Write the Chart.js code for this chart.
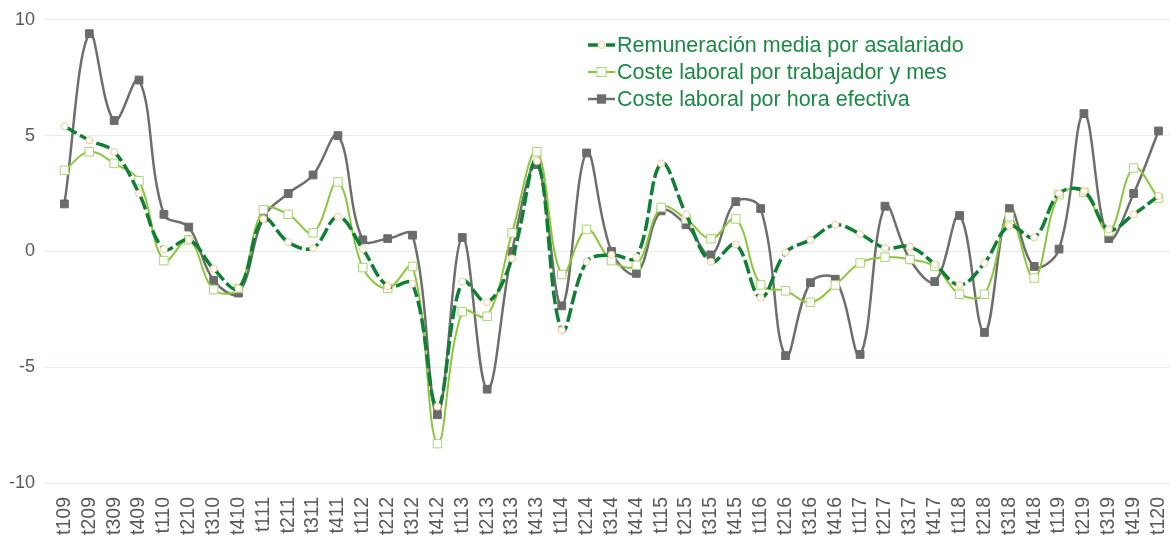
<!DOCTYPE html>
<html>
<head>
<meta charset="utf-8">
<script src="https://cdn.jsdelivr.net/npm/chart.js@4"></script>
<style>
  html, body { margin: 0; padding: 0; background: #ffffff; overflow: hidden; }
  #outer { width: 1170px; height: 539px; overflow: hidden; position: relative; }
  #wrap { width: 1188px; height: 539px; position: absolute; left: 0; top: 0; }
</style>
</head>
<body>
<div id="outer"><div id="wrap"><canvas id="costChart"></canvas></div></div>
<script>
// quarters t109 .. t120
const labels = ['t109','t209','t309','t409','t110','t210','t310','t410','t111','t211','t311','t411',
  't112','t212','t312','t412','t113','t213','t313','t413','t114','t214','t314','t414',
  't115','t215','t315','t415','t116','t216','t316','t416','t117','t217','t317','t417',
  't118','t218','t318','t418','t119','t219','t319','t419','t120'];

const remuneracion = [5.4, 4.8, 4.3, 2.5, 0.1, 0.5, -0.75, -1.6, 1.4, 0.4, 0.15, 1.5,
  0.1, -1.5, -1.4, -6.7, -1.3, -2.2, -0.3, 3.9, -3.4, -0.45, -0.15, -0.25,
  3.8, 1.6, -0.45, 0.3, -2.0, -0.05, 0.5, 1.15, 0.75, 0.15, 0.2, -0.55,
  -1.45, -0.5, 1.1, 0.6, 2.5, 2.6, 0.95, 1.6, 2.4];

const costeTrabajador = [3.5, 4.3, 3.8, 3.05, -0.4, 0.5, -1.65, -1.6, 1.8, 1.6, 0.8, 3.0,
  -0.7, -1.6, -0.65, -8.3, -2.6, -2.8, 0.8, 4.3, -1.0, 0.95, -0.4, -0.6,
  1.9, 1.4, 0.55, 1.4, -1.45, -1.7, -2.2, -1.45, -0.5, -0.25, -0.35, -0.65,
  -1.85, -1.85, 1.5, -1.15, 2.45, 2.55, 0.85, 3.6, 2.3];

const costeHora = [2.05, 9.4, 5.65, 7.4, 1.6, 1.05, -1.25, -1.8, 1.45, 2.5, 3.3, 5.0,
  0.5, 0.55, 0.7, -7.05, 0.6, -5.95, 0.0, 3.75, -2.35, 4.25, 0.0, -0.95,
  1.75, 1.15, -0.15, 2.15, 1.85, -4.5, -1.35, -1.2, -4.45, 1.95, -0.35, -1.3,
  1.55, -3.5, 1.85, -0.65, 0.1, 5.95, 0.55, 2.5, 5.2];

const yTicks = [-10, -5, 0, 5, 10];

// legend drawn inside the plot area, like the original
const insideLegend = {
  id: 'insideLegend',
  afterDraw(chart) {
    const ctx = chart.ctx;
    const x0 = 588, x1 = 615, textX = 617;
    const rows = [45, 72, 99];
    ctx.save();
    chart.data.datasets.forEach(function(ds, i) {
      const y = rows[i];
      ctx.beginPath();
      ctx.setLineDash(ds.borderDash || []);
      ctx.strokeStyle = ds.borderColor;
      ctx.lineWidth = ds.borderWidth;
      ctx.moveTo(x0, y);
      ctx.lineTo(x1, y);
      ctx.stroke();
      ctx.setLineDash([]);
      const mx = (x0 + x1) / 2;
      ctx.fillStyle = ds.pointBackgroundColor;
      ctx.strokeStyle = ds.pointBorderColor;
      ctx.lineWidth = 1;
      if (ds.pointStyle === 'circle') {
        ctx.beginPath();
        ctx.arc(mx, y, 3.5, 0, Math.PI * 2);
        ctx.fill();
        ctx.stroke();
      } else {
        const s = ds.pointRadius * 1.5;
        ctx.fillRect(mx - s / 2, y - s / 2, s, s);
        ctx.strokeRect(mx - s / 2, y - s / 2, s, s);
      }
      ctx.fillStyle = '#1b8a44';
      ctx.font = '21.5px "Liberation Sans", Arial, sans-serif';
      ctx.textBaseline = 'middle';
      ctx.fillText(ds.label, textX, y + 1);
    });
    ctx.restore();
  }
};

const ctx = document.getElementById('costChart');
new Chart(ctx, {
  type: 'line',
  data: {
    labels: labels,
    datasets: [{
      label: 'Remuneración media por asalariado',
      data: remuneracion,
      borderColor: '#0f7f36',
      borderWidth: 3.5,
      borderDash: [14, 4],
      pointStyle: 'circle',
      pointRadius: 3.5,
      pointBackgroundColor: '#ffffff',
      pointBorderColor: '#f6c896',
      pointBorderWidth: 1,
      tension: 0.38,
      order: 1
    }, {
      label: 'Coste laboral por trabajador y mes',
      data: costeTrabajador,
      borderColor: '#8cc63e',
      borderWidth: 2,
      pointStyle: 'rect',
      pointRadius: 6,
      pointBackgroundColor: '#ffffff',
      pointBorderColor: '#a8d672',
      pointBorderWidth: 1,
      tension: 0.38,
      order: 2
    }, {
      label: 'Coste laboral por hora efectiva',
      data: costeHora,
      borderColor: '#6e6f6d',
      borderWidth: 2.5,
      pointStyle: 'rect',
      pointRadius: 5.5,
      pointBackgroundColor: '#6b6c6a',
      pointBorderColor: '#6b6c6a',
      pointBorderWidth: 1,
      tension: 0.38,
      order: 3
    }]
  },
  options: {
    responsive: true,
    maintainAspectRatio: false,
    animation: false,
    layout: { padding: { top: 9, right: 0, left: 0, bottom: 0 } },
    plugins: {
      legend: { display: false },
      tooltip: { enabled: false }
    },
    scales: {
      x: {
        offset: true,
        grid: { display: false },
        border: { display: false },
        ticks: {
          autoSkip: false,
          minRotation: 90,
          maxRotation: 90,
          padding: 6,
          color: '#595959',
          font: { family: '"Liberation Sans", Arial, sans-serif', size: 19.5 }
        },
        afterFit: function(axis) { axis.height = 56; }
      },
      y: {
        min: -10,
        max: 10,
        grid: { color: '#e4eee8', lineWidth: 1 },
        border: { display: false },
        afterBuildTicks: function(axis) {
          axis.ticks = yTicks.map(function(v) { return { value: v }; });
        },
        ticks: {
          padding: 9,
          color: '#595959',
          font: { family: '"Liberation Sans", Arial, sans-serif', size: 18 }
        },
        afterFit: function(axis) { axis.width = 52; }
      }
    }
  },
  plugins: [insideLegend]
});
</script>
</body>
</html>
